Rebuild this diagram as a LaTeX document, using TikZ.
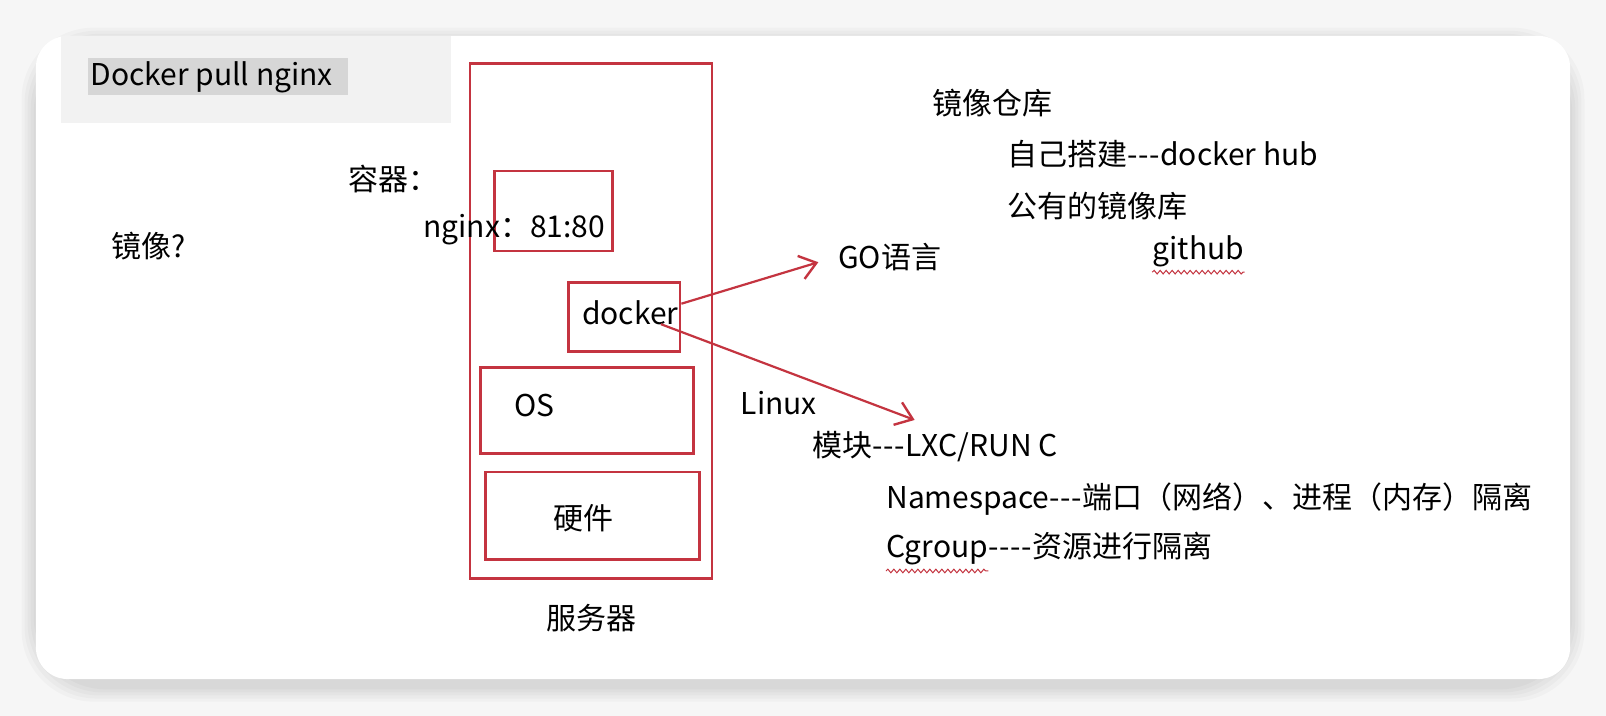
\documentclass[tikz,border=0pt]{standalone}
\usepackage{fontspec}
\setmainfont{Noto Sans CJK SC}
\usepackage{tikz}
\usetikzlibrary{arrows.meta, fit, calc, decorations.pathmorphing}
\definecolor{boxred}{RGB}{196,52,64}
\definecolor{hlgray}{RGB}{214,214,214}
\definecolor{panelgray}{RGB}{242,242,242}
% hyphens without the TeX ligature
\newcommand\hy{-\kern0.3pt}

\tikzset{
  redbox/.style={draw=boxred, line width=1.3pt, inner sep=0pt},
  txt/.style={anchor=west, inner sep=0pt, font=\fontsize{15}{18}\selectfont},
  redarrow/.style={draw=boxred, line width=1.1pt, -{Straight Barb[length=8pt,width=12pt,line width=1.2pt]}},
  wavy/.style={draw=boxred, line width=0.5pt, decorate, decoration={snake, amplitude=0.9pt, segment length=3pt}}
}

\begin{document}
\begin{tikzpicture}[x=0.5122pt,y=0.5122pt,yscale=-1,xscale=1]
\useasboundingbox (0,0) rectangle (1568,699);
%Background
\fill[gray!7] (0,0) rectangle (1568,699);
%Shadow of the card
\foreach \s in {14,11,8,5,2}{
  \fill[black, opacity=0.025, rounded corners=36pt] (35-\s,35-\s+6) rectangle (1533+\s,663+\s+8);
}
%Shape: Card
\fill[white, rounded corners=16pt] (35,35) rectangle (1533,663);

%Shape: Panel top left
\fill[panelgray] (60,35) rectangle (440,120);
\fill[hlgray] (86,57) rectangle (340,93);
% Text Node
\node[txt] (pull) at (88,75) {Docker pull nginx};

%Shape: Rectangle [server]
\node[redbox, fit={(459,62) (695,565)}] (server) {};
%Shape: Rectangle [container]
\node[redbox, fit={(483,167) (598,245)}] (ctr) {};
%Shape: Rectangle [docker]
\node[redbox, fit={(555,276) (664,343)}] (docker) {};
%Shape: Rectangle [os]
\node[redbox, fit={(469,359) (677,443)}] (os) {};
%Shape: Rectangle [hardware]
\node[redbox, fit={(474,461) (683,546)}] (hw) {};

% Text Node
\node[txt] (rongqi) at (340,175) {容器：};
% Text Node
\node[txt] (nginx) at (413,224) {nginx：81:80};
% Text Node
\node[txt] (dockertxt) at (568,305) {docker};
% Text Node
\node[txt] (ostxt) at (502,396) {OS};
% Text Node
\node[txt] (hwtxt) at (540,506) {硬件};
% Text Node
\node[txt] (fuwuqi) at (533,603) {服务器};
% Text Node
\node[txt] (jingxiang) at (108,240) {镜像?};

% Text Node
\node[txt] (go) at (818,251) {GO语言};
% Text Node
\node[txt] (linux) at (723,394) {Linux};
% Text Node
\node[txt] (cangku) at (910,101) {镜像仓库};
% Text Node
\node[txt] (hub) at (983,150) {自己搭建\hy\hy\hy docker hub};
% Text Node
\node[txt] (public) at (983,201) {公有的镜像库};
% Text Node
\node[txt] (github) at (1125,245) {github};
% Text Node
\node[txt] (mokuai) at (793,436) {模块\hy\hy\hy LXC/RUN C};
% Text Node
\node[txt] (ns) at (865,487) {Namespace\hy\hy\hy 端口（网络）、进程（内存）隔离};
% Text Node
\node[txt] (cgroup) at (865,536) {Cgroup\hy\hy\hy\hy 资源进行隔离};

%Wavy underlines
\draw[wavy] ($(github.south west)+(0,5)$) -- ($(github.south east)+(0,5)$);
\draw[wavy] ($(cgroup.south west)+(0,5)$) -- ($(cgroup.south west)+(100,5)$);

%Arrows
\coordinate (lxctip) at (893,410);
\draw[redarrow] ($(docker.east)+(0,-13)$) -- ($(go.west)+(-19,5)$);
\draw[redarrow] ($(docker.east)+(-20,7)$) -- (lxctip);

\end{tikzpicture}
\end{document}
